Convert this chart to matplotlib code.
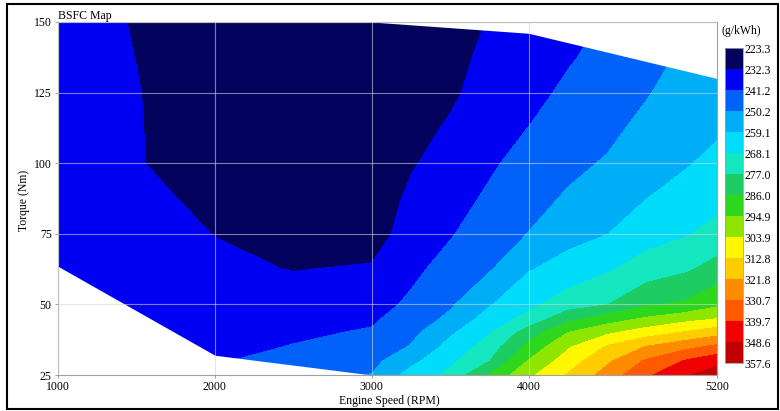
import numpy as np
import matplotlib as mpl
mpl.use('Agg')  # headless
import matplotlib.pyplot as plt
from matplotlib.colors import ListedColormap, BoundaryNorm
from matplotlib.patches import Rectangle

# operating grid
rpm = [1000, 1500, 2000, 2500, 3000, 3250, 3500, 3750, 4000, 4250, 4500, 4750, 5000, 5200]
torque = [25, 30, 35, 40, 45, 50, 62.5, 75, 87.5, 100, 112.5, 125, 137.5, 150]

# BSFC (g/kWh), one list per torque row, columns follow rpm
bsfc_t025 = [240.0, 240.5, 241.5, 246.5, 250.5, 262.5, 270.2, 287.1, 302.0, 313.5, 325.5, 338.0, 347.5, 353.5]
bsfc_t030 = [240.0, 240.5, 240.5, 244.0, 247.7, 256.7, 266.2, 276.7, 295.5, 308.2, 320.1, 331.9, 340.4, 345.6]
bsfc_t035 = [240.0, 240.0, 238.5, 241.6, 244.9, 250.8, 262.2, 272.1, 288.7, 302.8, 313.6, 322.2, 328.1, 332.8]
bsfc_t040 = [240.0, 240.0, 237.7, 239.7, 242.1, 247.9, 257.7, 267.5, 281.3, 295.0, 302.4, 308.5, 313.8, 318.3]
bsfc_t045 = [240.0, 240.0, 236.9, 238.0, 239.9, 245.3, 252.0, 262.9, 270.8, 283.1, 290.2, 295.9, 300.6, 303.7]
bsfc_t050 = [240.0, 239.5, 236.1, 236.3, 238.0, 242.7, 249.0, 258.4, 265.8, 272.7, 276.7, 284.9, 287.3, 293.1]
bsfc_t062 = [239.5, 238.0, 234.1, 232.0, 233.2, 239.2, 244.4, 249.4, 258.5, 262.4, 267.0, 272.0, 275.7, 280.3]
bsfc_t075 = [239.0, 236.5, 232.1, 229.0, 228.1, 236.5, 240.5, 246.0, 250.4, 256.2, 258.9, 264.5, 267.3, 271.0]
bsfc_t087 = [238.5, 235.3, 229.5, 227.0, 227.3, 233.9, 238.1, 242.5, 247.3, 251.2, 255.0, 259.0, 262.7, 265.4]
bsfc_t100 = [238.5, 232.9, 227.5, 226.0, 226.8, 231.5, 235.7, 240.0, 244.3, 248.1, 251.0, 255.8, 258.3, 261.5]
bsfc_t112 = [238.0, 232.9, 226.5, 225.5, 226.5, 229.5, 233.3, 238.0, 241.3, 245.5, 248.0, 252.6, 256.5, 257.7]
bsfc_t125 = [238.0, 232.7, 226.5, 225.5, 226.5, 228.5, 230.8, 236.1, 238.5, 242.9, 246.0, 249.5, 254.5, 255.5]
bsfc_t137 = [238.0, 232.15, 227.0, 226.0, 227.0, 228.0, 230.0, 234.1, 236.0, 240.3, 244.0, 246.5, 252.0, 253.5]
bsfc_t150 = [238.0, 231.5, 227.5, 226.5, 227.5, 228.0, 229.8, 232.6, 234.0, 238.5, 242.0, 244.0, 251.0, 252.0]

levels = [223.3, 232.3, 241.2, 250.2, 259.1, 268.1, 277.0, 286.0, 294.9,
          303.9, 312.8, 321.8, 330.7, 339.7, 348.6, 357.6]
band_colors = ['#03035e', '#0000f2', '#0062f8', '#00aef8', '#00dcfa',
               '#14e6c0', '#1ecc64', '#2ed61e', '#8ee600', '#fff700',
               '#ffcc00', '#ff8c00', '#ff5a00', '#f00000', '#c00000']

# limits of the measured region (white outside)
max_torque_rpm = [1000, 3000, 4000, 5200]
max_torque_nm = [150, 150, 146, 130]
min_torque_rpm = [1000, 2000, 3000]
min_torque_nm = [63.5, 32, 25]

x_ticks = [1000, 2000, 3000, 4000, 5200]
y_ticks = [25, 50, 75, 100, 125, 150]

plt.rcParams['font.family'] = ['Liberation Serif', 'DejaVu Serif']
fs = 8.5

fig = plt.figure(figsize=(7.8, 4.11), dpi=100)
ax = fig.add_axes([58 / 780, 1 - 375 / 411, 659 / 780, 353 / 411])

Z = np.array([bsfc_t025, bsfc_t030, bsfc_t035, bsfc_t040, bsfc_t045,
              bsfc_t050, bsfc_t062, bsfc_t075, bsfc_t087, bsfc_t100,
              bsfc_t112, bsfc_t125, bsfc_t137, bsfc_t150])
cmap = ListedColormap(band_colors)
norm = BoundaryNorm(levels, cmap.N)
cf = ax.contourf(rpm, torque, Z, levels=levels, cmap=cmap, norm=norm)

ax.fill_between(max_torque_rpm, max_torque_nm, 150, color='white', lw=0, zorder=1.5)
ax.fill_between(min_torque_rpm, 25, min_torque_nm, color='white', lw=0, zorder=1.5)

ax.set_xlim(1000, 5200)
ax.set_ylim(25, 150)
ax.set_xticks(x_ticks)
ax.set_yticks(y_ticks)
ax.grid(True, color='#d4d4d4', lw=0.8, alpha=0.6)
ax.set_axisbelow(False)
ax.tick_params(direction='out', length=2.5, width=0.6, color='#909090',
               labelsize=fs, pad=2)
for s in ax.spines.values():
    s.set_color('#a0a0a0')
    s.set_linewidth(0.8)

ax.text(0, 1.0, 'BSFC Map', transform=ax.transAxes, ha='left', va='bottom',
        fontsize=fs)
fig.text(389 / 780, 1 - 401 / 411, 'Engine Speed (RPM)', ha='center',
         va='center', fontsize=fs)
fig.text(24 / 780, 1 - 200 / 411, 'Torque (Nm)', ha='center', va='center',
         rotation=90, fontsize=fs)

# colour bar, low values on top
cax = fig.add_axes([725 / 780, 1 - 363 / 411, 18 / 780, 315 / 411])
cb = fig.colorbar(cf, cax=cax, ticks=levels)
cax.invert_yaxis()
cb.ax.set_yticklabels(['%.1f' % v for v in levels])
cb.ax.tick_params(length=0, labelsize=fs, pad=1)
cb.outline.set_edgecolor('#a0a0a0')
cb.outline.set_linewidth(0.6)
fig.text(721 / 780, 1 - 31 / 411, '(g/kWh)', ha='left', va='center',
         fontsize=fs)

fig.patches.append(Rectangle((7 / 780, 2 / 411), 771 / 780, 405 / 411,
                             transform=fig.transFigure, fill=False,
                             ec='black', lw=1.5))

fig.savefig('out.png', dpi=100)
